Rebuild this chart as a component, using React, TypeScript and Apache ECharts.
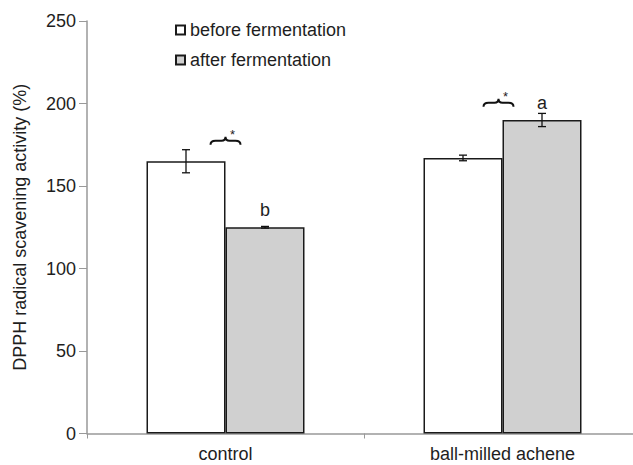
import React, { useEffect, useRef } from "react";
import * as echarts from "echarts";

const categories = ["control", "ball-milled achene"];
const seriesNames = ["before fermentation", "after fermentation"];
const beforeValues = [165, 167];
const afterValues = [125, 190];
const beforeErrors = [7, 1.7];
const afterErrors = [0.5, 4];
const letterLabels = ["b", "a"];
const braceLevels = [175, 198];
const braceMarks = ["*", "*"];

const FONT = "'Liberation Sans', Arial, Helvetica, sans-serif";
const BAR_W = 79;
const TEXT = "#1e1e1e";
const FS = 18;

export default function App() {
  const ref = useRef<HTMLDivElement>(null);
  useEffect(() => {
    document.body.style.margin = "0";
    const chart = echarts.init(ref.current!, null, { renderer: "svg" });

    const errData = (vals: number[], errs: number[]) =>
      vals.map((v, i) => [i, v - errs[i], v + errs[i]]);

    const errRender = (offset: number) => (params: any, api: any) => {
      const i = api.value(0);
      const lo = api.coord([i, api.value(1)]);
      const hi = api.coord([i, api.value(2)]);
      const x = lo[0] + offset;
      const cap = 4;
      const st = { stroke: "#111", lineWidth: 1.3 };
      return {
        type: "group",
        children: [
          { type: "line", shape: { x1: x, y1: lo[1], x2: x, y2: hi[1] }, style: st },
          { type: "line", shape: { x1: x - cap, y1: lo[1], x2: x + cap, y2: lo[1] }, style: st },
          { type: "line", shape: { x1: x - cap, y1: hi[1], x2: x + cap, y2: hi[1] }, style: st },
        ],
      };
    };

    const braceRender = (params: any, api: any) => {
      const i = api.value(0);
      const p = api.coord([i, api.value(1)]);
      const x = p[0] - (i === 1 ? 4 : 0);
      const y = p[1];
      const d =
        `M ${x - 15} ${y} Q ${x - 15} ${y - 4} ${x - 10} ${y - 4} L ${x - 4} ${y - 4} ` +
        `Q ${x} ${y - 4} ${x} ${y - 8} Q ${x} ${y - 4} ${x + 4} ${y - 4} ` +
        `L ${x + 10} ${y - 4} Q ${x + 15} ${y - 4} ${x + 15} ${y}`;
      return {
        type: "group",
        children: [
          { type: "path", shape: { pathData: d }, style: { fill: "none", stroke: "#111", lineWidth: 2 } },
          {
            type: "text",
            style: {
              text: braceMarks[i],
              x: x + 7,
              y: y - 4,
              textAlign: "center",
              textVerticalAlign: "bottom",
              fontSize: 13,
              fontFamily: FONT,
              fill: TEXT,
            },
          },
        ],
      };
    };

    chart.setOption({
      animation: false,
      textStyle: { fontFamily: FONT },
      grid: {
        left: 87,
        width: 554,
        top: 21,
        bottom: 31.5,
        containLabel: false,
        outerBoundsMode: "none",
      },
      legend: {
        data: seriesNames,
        orient: "vertical",
        left: 175,
        top: 21,
        padding: 0,
        icon: "rect",
        itemWidth: 9,
        itemHeight: 9,
        itemGap: 12,
        textStyle: { fontSize: FS, color: TEXT, fontFamily: FONT },
      },
      xAxis: {
        type: "category",
        data: categories,
        axisLine: { show: true, lineStyle: { color: "#999", width: 1.5 } },
        axisTick: { show: true, length: 5, lineStyle: { color: "#999" } },
        axisLabel: { fontSize: FS, color: TEXT, margin: 11, fontFamily: FONT },
      },
      yAxis: {
        type: "value",
        min: 0,
        max: 250,
        interval: 50,
        name: "DPPH radical scavening activity (%)",
        nameLocation: "middle",
        nameGap: 58,
        nameTextStyle: { fontSize: FS, color: TEXT, fontFamily: FONT },
        axisLine: { show: true, lineStyle: { color: "#999", width: 1.5 } },
        axisTick: { show: true, length: 8, lineStyle: { color: "#999" } },
        axisLabel: { fontSize: FS, color: TEXT, margin: 11, fontFamily: FONT },
        splitLine: { show: false },
      },
      series: [
        {
          name: seriesNames[0],
          type: "bar",
          data: beforeValues,
          barWidth: BAR_W,
          barGap: "0%",
          itemStyle: { color: "#ffffff", borderColor: "#1a1a1a", borderWidth: 1.5 },
        },
        {
          name: seriesNames[1],
          type: "bar",
          data: afterValues,
          barWidth: BAR_W,
          barGap: "0%",
          itemStyle: { color: "#d0d0d0", borderColor: "#1a1a1a", borderWidth: 1.5 },
          label: {
            show: true,
            position: "top",
            distance: 8,
            formatter: (p: any) => letterLabels[p.dataIndex],
            fontSize: FS,
            color: TEXT,
            fontFamily: FONT,
          },
        },
        {
          type: "custom",
          data: errData(beforeValues, beforeErrors),
          renderItem: errRender(-BAR_W / 2),
          encode: { x: 0, y: [1, 2] },
          z: 10,
        },
        {
          type: "custom",
          data: errData(afterValues, afterErrors),
          renderItem: errRender(BAR_W / 2),
          encode: { x: 0, y: [1, 2] },
          z: 10,
        },
        {
          type: "custom",
          data: braceLevels.map((v, i) => [i, v]),
          renderItem: braceRender,
          encode: { x: 0, y: 1 },
          z: 10,
        },
      ],
    });
    return () => chart.dispose();
  }, []);
  return <div ref={ref} style={{ width: 633, height: 465 }} />;
}
